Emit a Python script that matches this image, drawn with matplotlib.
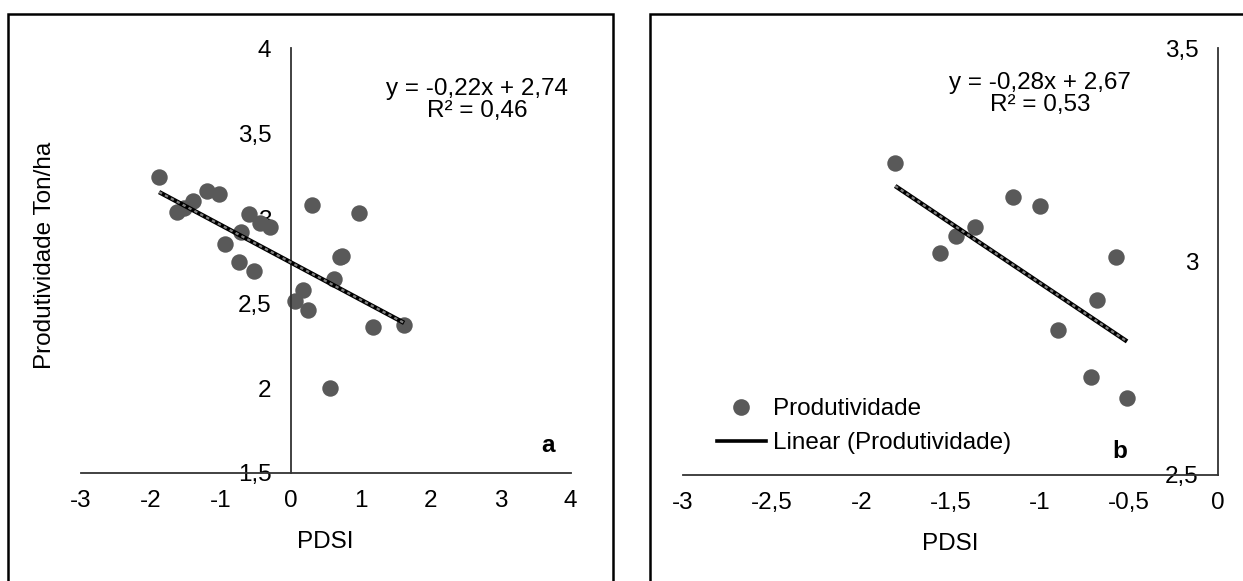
import numpy as np
import matplotlib.pyplot as plt
from matplotlib.patches import Rectangle
from matplotlib.lines import Line2D
from matplotlib.ticker import FuncFormatter, MultipleLocator

plt.rcParams['font.family'] = ['Liberation Sans', 'DejaVu Sans']

# painel a
pdsi_a = [-1.88, -1.20, -1.03, -1.39, -1.53, -1.62, -0.60, -0.44, -0.30, -0.71, -0.94, -0.74,
          -0.53, 0.30, 0.97, 0.73, 0.70, 0.62, 0.17, 0.06, 0.24, 1.17, 1.62, 0.56]
prod_a = [3.24, 3.16, 3.14, 3.10, 3.06, 3.035, 3.025, 2.97, 2.95, 2.92, 2.85, 2.74,
          2.69, 3.075, 3.03, 2.78, 2.77, 2.64, 2.58, 2.51, 2.46, 2.36, 2.37, 2.00]
coef_a = [-0.22, 2.74]
eq_a = "y = -0,22x + 2,74\nR² = 0,46"

# painel b
pdsi_b = [-1.81, -1.15, -1.00, -1.36, -1.47, -1.56, -0.57, -0.68, -0.90, -0.71, -0.51]
prod_b = [3.23, 3.15, 3.13, 3.08, 3.06, 3.02, 3.01, 2.91, 2.84, 2.73, 2.68]
coef_b = [-0.28, 2.67]
eq_b = "y = -0,28x + 2,67\nR² = 0,53"

W, H = 1243, 581
fig = plt.figure(figsize=(W / 100, H / 100), dpi=100)


def rect(x0, y0, x1, y1):
    # coordenadas em pixels (y de cima para baixo)
    return [x0 / W, 1 - y1 / H, (x1 - x0) / W, (y1 - y0) / H]


def px(x, y):
    return x / W, 1 - y / H


virgula = FuncFormatter(lambda v, p: f"{v:g}".replace('.', ','))
fs = 17.5
cor_ponto = '#595959'
cor_eixo = '#333333'


def painel(ax, x, y, coef, xlim, ylim, xstep, ystep):
    ax.scatter(x, y, s=140, color=cor_ponto, zorder=2, linewidths=0)
    xs = np.array([min(x), max(x)])
    ys = coef[0] * xs + coef[1]
    ax.plot(xs, ys, color='black', lw=3.2, zorder=3, solid_capstyle='butt')
    ax.plot(xs, ys, color='#808080', lw=1.6, ls=(0, (1.5, 1.5)), zorder=4)
    ax.set_xlim(xlim)
    ax.set_ylim(ylim)
    ax.xaxis.set_major_locator(MultipleLocator(xstep))
    ax.yaxis.set_major_locator(MultipleLocator(ystep))
    ax.xaxis.set_major_formatter(virgula)
    ax.yaxis.set_major_formatter(virgula)
    ax.spines['top'].set_visible(False)
    ax.spines['right'].set_visible(False)
    ax.spines['left'].set_position(('data', 0))
    for s in ['left', 'bottom']:
        ax.spines[s].set_color(cor_eixo)
        ax.spines[s].set_linewidth(1.3)
    ax.tick_params(axis='both', length=0, labelsize=fs)
    ax.tick_params(axis='y', pad=14)
    ax.tick_params(axis='x', pad=12)
    ax.set_facecolor('none')
    ax.set_xlabel("PDSI", fontsize=fs, labelpad=14)


ax1 = fig.add_axes(rect(80.7, 48.3, 570.7, 473))
painel(ax1, pdsi_a, prod_a, coef_a, (-3, 4), (1.5, 4), 1, 0.5)

ax2 = fig.add_axes(rect(683, 48, 1218, 475))
painel(ax2, pdsi_b, prod_b, coef_b, (-3, 0), (2.5, 3.5), 0.5, 0.5)

# textos
fig.text(*px(477, 100), eq_a, fontsize=fs, ha='center', va='center',
         multialignment='center', linespacing=1.0)
fig.text(*px(1040, 94), eq_b, fontsize=fs, ha='center', va='center',
         multialignment='center', linespacing=1.0)
fig.text(*px(548, 445), "a", fontsize=fs, fontweight='bold', ha='center', va='center')
fig.text(*px(1120, 451), "b", fontsize=fs, fontweight='bold', ha='center', va='center')
fig.text(*px(45, 255), "Produtividade Ton/ha", fontsize=fs, rotation=90,
         ha='center', va='center')

# legenda
handles = [Line2D([], [], ls='none', marker='o', ms=12, color=cor_ponto, mec='none'),
           Line2D([], [], color='black', lw=2.6)]
fig.legend(handles, ["Produtividade", "Linear (Produtividade)"], loc='upper left',
           bbox_to_anchor=px(705, 386), frameon=False, fontsize=fs,
           borderpad=0, handlelength=2.0, handletextpad=0.3, labelspacing=0.5)

# molduras
for x0, x1 in [(8, 613), (650, 1300)]:
    fig.add_artist(Rectangle((x0 / W, -0.1), (x1 - x0) / W, 1 - 14 / H + 0.1,
                             transform=fig.transFigure, fill=False, lw=1.8,
                             edgecolor='black'))

plt.savefig("out.png", dpi=100)
